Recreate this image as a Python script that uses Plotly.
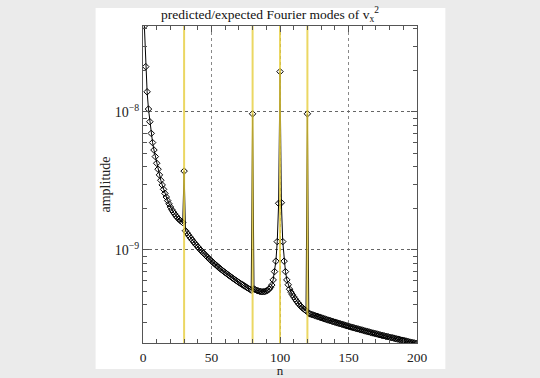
import plotly.graph_objects as go

# mode number n
n_values = list(range(1, 201))

amp_e10 = [
    # n = 1..10
    420, 213, 140, 105, 85, 70, 60, 53, 47.5, 42.5,
    # n = 11..29
    38.5, 35.0, 32.0, 29.6, 27.5, 25.7, 24.2, 22.8, 21.6, 20.5,
    19.6, 18.9, 18.3, 17.7, 17.2, 16.8, 16.4, 16.1, 15.8,
    # n = 30 (mode)
    37.3,
    # n = 31..79
    13.8, 13.34, 12.92, 12.51, 12.13, 11.78, 11.44, 11.12, 10.82, 10.53,
    10.26, 10.00, 9.76, 9.52, 9.30, 9.08, 8.88, 8.68, 8.49, 8.31,
    8.14, 7.98, 7.82, 7.66, 7.52, 7.37, 7.24, 7.10, 6.98, 6.85,
    6.74, 6.62, 6.51, 6.40, 6.30, 6.19, 6.10, 6.00, 5.91, 5.82,
    5.73, 5.65, 5.57, 5.49, 5.41, 5.33, 5.26, 5.19, 5.12,
    # n = 80 (mode)
    97,
    # n = 81..99
    5.22, 5.15, 5.10, 5.06, 5.02, 5.00, 4.98, 4.98, 5.00, 5.05,
    5.10, 5.20, 5.35, 5.57, 6.07, 6.97, 8.3, 11.5, 21.8,
    # n = 100 (mode)
    196,
    # n = 101..119
    22.0, 11.5, 8.3, 6.97, 6.07, 5.6, 5.2, 4.95, 4.75, 4.58,
    4.42, 4.28, 4.15, 4.03, 3.93, 3.84, 3.76, 3.69, 3.63,
    # n = 120 (mode)
    97,
    # n = 121..200
    3.47, 3.44, 3.41, 3.39, 3.36, 3.33, 3.31, 3.28, 3.26, 3.23,
    3.21, 3.18, 3.16, 3.13, 3.11, 3.09, 3.07, 3.04, 3.02, 3.00,
    2.98, 2.96, 2.94, 2.92, 2.90, 2.88, 2.86, 2.84, 2.82, 2.80,
    2.78, 2.76, 2.75, 2.73, 2.71, 2.69, 2.68, 2.66, 2.64, 2.63,
    2.61, 2.59, 2.58, 2.56, 2.55, 2.53, 2.51, 2.50, 2.49, 2.47,
    2.46, 2.44, 2.43, 2.41, 2.40, 2.39, 2.37, 2.36, 2.35, 2.33,
    2.32, 2.31, 2.30, 2.28, 2.27, 2.26, 2.25, 2.23, 2.22, 2.21,
    2.20, 2.19, 2.18, 2.16, 2.15, 2.14, 2.13, 2.12, 2.11, 2.10,
]
amplitude = [v * 1e-10 for v in amp_e10]

# predicted mode numbers (yellow lines)
predicted_modes = [30, 80, 100, 120]
line_span = [1e-12, 1e-6]

x_ticks = [0, 50, 100, 150, 200]
x_minor_step = 10
y_ticks = [1e-9, 1e-8]
y_tick_labels = ["10<sup>\u22129</sup>", "10<sup>\u22128</sup>"]
y_minor = [3e-10, 4e-10, 5e-10, 6e-10, 7e-10, 8e-10, 9e-10,
           2e-9, 3e-9, 4e-9, 5e-9, 6e-9, 7e-9, 8e-9, 9e-9,
           2e-8, 3e-8, 4e-8]
y_range = [-9.674, -7.377]

FONT = "Liberation Serif"
YELLOW = "rgba(230, 205, 60, 0.8)"
TXT = "#222222"

fig = go.Figure()
fig.add_trace(go.Scatter(
    x=n_values, y=amplitude, mode="lines+markers",
    line=dict(color="black", width=1),
    marker=dict(symbol="diamond-open", size=5, color="black",
                line=dict(width=1, color="black")),
    showlegend=False,
))
for m in predicted_modes:
    fig.add_trace(go.Scatter(
        x=[m, m], y=line_span, mode="lines",
        line=dict(color=YELLOW, width=2),
        showlegend=False, hoverinfo="skip",
    ))

fig.add_shape(type="rect", xref="paper", yref="paper",
              x0=-0.173, x1=1.1035, y0=-0.082, y1=1.0568,
              fillcolor="white", line=dict(width=0), layer="below")

fig.update_layout(
    width=540, height=378,
    margin=dict(l=143, r=123, t=26, b=35, autoexpand=False),
    paper_bgcolor="#ebebeb",
    plot_bgcolor="white",
    font=dict(family=FONT, color=TXT, size=14),
    title=dict(text="predicted/expected Fourier modes of v<sub>x</sub><sup>2</sup>",
               x=0.5, xanchor="center", y=0.963, yanchor="middle",
               font=dict(family=FONT, size=13.5, color="#111111")),
)
fig.update_xaxes(
    range=[0, 200], tickvals=x_ticks, ticks="inside", ticklen=6,
    tickcolor="#555", showline=True, linecolor="#555", linewidth=1,
    mirror="allticks", showgrid=True, gridcolor="#888", griddash="dot",
    gridwidth=1, zeroline=False, ticklabelstandoff=2, automargin=False,
    minor=dict(dtick=x_minor_step, ticks="inside", ticklen=4,
               tickcolor="#555", showgrid=False),
    title=dict(text="n", standoff=8, font=dict(family=FONT, size=13, color=TXT)),
    tickfont=dict(family=FONT, size=13.5, color=TXT),
)
fig.update_yaxes(
    type="log", range=y_range, tickvals=y_ticks, ticktext=y_tick_labels,
    ticks="inside", ticklen=6, tickcolor="#555", showline=True,
    linecolor="#555", linewidth=1, mirror="allticks", showgrid=True,
    gridcolor="#666", griddash="dot", gridwidth=1, zeroline=False,
    automargin=False,
    minor=dict(tickvals=y_minor, ticks="inside", ticklen=4,
               tickcolor="#555", showgrid=False),
    title=dict(text="amplitude", standoff=0, font=dict(family=FONT, size=14, color=TXT)),
    tickfont=dict(family=FONT, size=14, color=TXT),
)

fig.write_html("out.html", config={"displayModeBar": False},
               post_script="document.body.style.margin='0';")
